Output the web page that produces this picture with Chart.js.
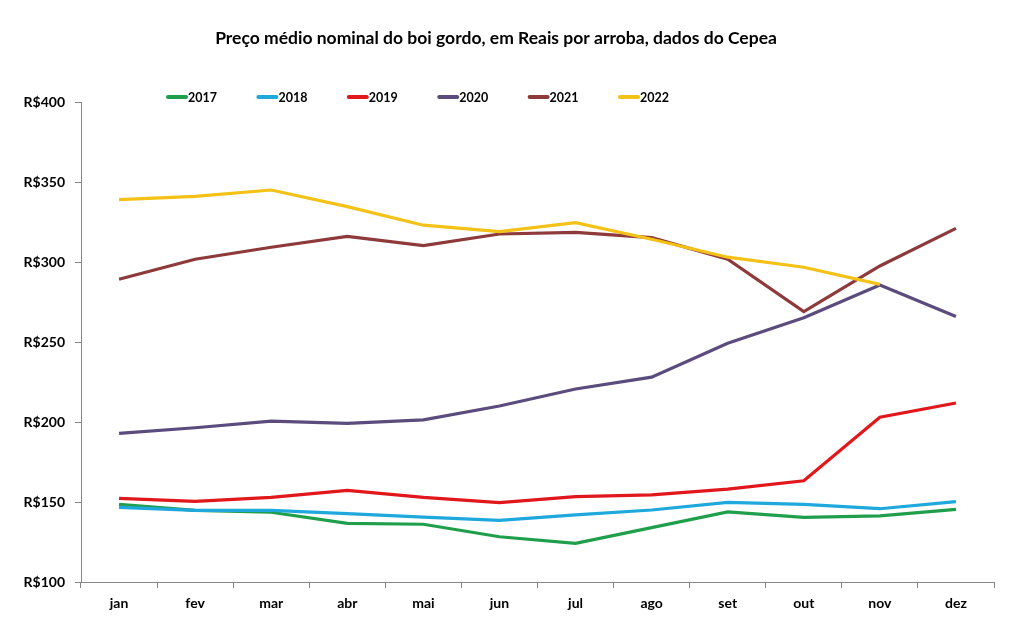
<!DOCTYPE html>
<html><head><meta charset="utf-8">
<script src="https://cdn.jsdelivr.net/npm/chart.js@4/dist/chart.umd.min.js"></script>
<style>html,body{margin:0;padding:0;background:#fff}#wrap{width:1012px;height:631px}</style>
</head><body><div id="wrap"><canvas id="c" width="1012" height="631"></canvas></div>
<script>
const months = ["jan","fev","mar","abr","mai","jun","jul","ago","set","out","nov","dez"];
const years = ["2017","2018","2019","2020","2021","2022"];
const v2017 = [148.5,144.8,143.6,136.7,136.1,128.3,124.2,134.0,143.8,140.4,141.3,145.4];
const v2018 = [146.7,144.8,144.8,142.7,140.6,138.5,142.0,145.0,149.8,148.5,145.8,150.2];
const v2019 = [152.3,150.4,152.9,157.3,152.9,149.6,153.3,154.4,158.1,163.3,203.0,211.9];
const v2020 = [192.9,196.4,200.6,199.2,201.3,210.0,220.6,228.0,249.2,265.2,285.6,266.0];
const v2021 = [289.2,301.7,309.2,316.0,310.2,317.5,318.5,315.2,301.7,269.0,297.5,321.0];
const v2022 = [339.0,341.0,345.0,334.6,323.0,319.0,324.6,314.2,303.0,296.7,286.0,null];
const yTicks = [100,150,200,250,300,350,400];
const titleText = "Preço médio nominal do boi gordo, em Reais por arroba, dados do Cepea";
const colors = ["#1f9f4b","#1ea8dc","#e2171b","#5c4b7d","#8e3a3a","#f4c116"];
const series = [v2017,v2018,v2019,v2020,v2021,v2022];
const FONT = "Lato, 'Liberation Sans', sans-serif";

const overlay = {
  id: "overlay",
  afterDraw(chart) {
    const ctx = chart.ctx;
    ctx.save();
    ctx.fillStyle = "#000";
    ctx.font = "bold 17.5px " + FONT;
    ctx.textAlign = "center";
    ctx.textBaseline = "middle";
    ctx.fillText(titleText, 496, 38);
    ctx.font = "bold 12.5px " + FONT;
    ctx.textAlign = "left";
    chart.data.datasets.forEach((ds, i) => {
      const x0 = 166 + i * 90.4;
      ctx.strokeStyle = ds.borderColor;
      ctx.lineWidth = 4;
      ctx.lineCap = "round";
      ctx.beginPath();
      ctx.moveTo(x0 + 2, 97);
      ctx.lineTo(x0 + 20, 97);
      ctx.stroke();
      ctx.fillStyle = "#000";
      ctx.fillText(ds.label, x0 + 22, 97.5);
    });
    ctx.restore();
  }
};

new Chart(document.getElementById("c"), {
  type: "line",
  data: {
    labels: months,
    datasets: series.map((d, i) => ({
      label: years[i],
      data: d,
      borderColor: colors[i],
      backgroundColor: colors[i],
      borderWidth: 3.2,
      pointRadius: 0,
      tension: 0,
      order: 6 - i
    }))
  },
  options: {
    responsive: false,
    animation: false,
    devicePixelRatio: 1,
    layout: { padding: { top: 102, right: 18, left: 0, bottom: 0 } },
    plugins: { legend: { display: false }, title: { display: false }, tooltip: { enabled: false } },
    scales: {
      x: {
        type: "category",
        offset: true,
        grid: { offset: true, drawOnChartArea: false, drawTicks: true, tickLength: 6, color: "#868686" },
        border: { color: "#868686", width: 1 },
        ticks: { color: "#000", font: { family: FONT, size: 14, weight: "bold" }, padding: 7, maxRotation: 0 },
        afterFit(s) { s.height = 49; }
      },
      y: {
        min: 100, max: 400,
        afterBuildTicks(s) { s.ticks = yTicks.map(v => ({ value: v })); },
        grid: { drawOnChartArea: false, drawTicks: true, tickLength: 6, color: "#868686" },
        border: { color: "#868686", width: 1 },
        ticks: { color: "#000", font: { family: FONT, size: 14, weight: "bold" }, padding: 10,
                 callback: v => "R$" + v },
        afterFit(s) { s.width = 81; }
      }
    }
  },
  plugins: [overlay]
});
</script></body></html>
